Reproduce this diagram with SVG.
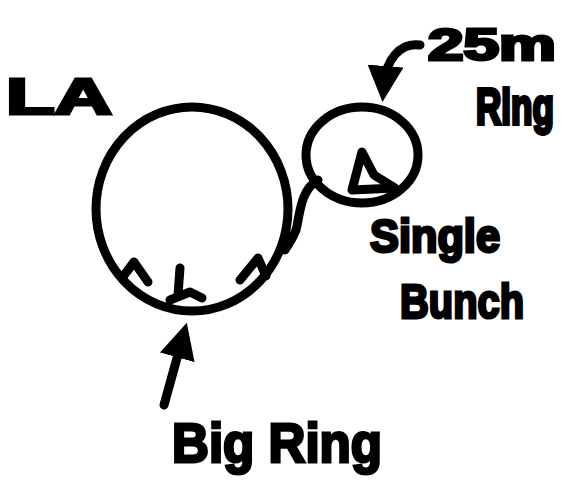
<svg xmlns="http://www.w3.org/2000/svg" width="579" height="491" viewBox="0 0 579 491">
<style>
.s{fill:none;stroke:#000;stroke-width:9;stroke-linecap:round;stroke-linejoin:round}
.t{font-family:"Liberation Sans",Arial,sans-serif;font-weight:bold;fill:#000;stroke:#000;stroke-width:3}
</style>
<defs>
<marker id="ah" viewBox="0 0 10 10" refX="5" refY="5" markerWidth="4" markerHeight="4" orient="auto-start-reverse">
<path d="M0,0 L10,5 L0,10 z" fill="#000"/>
</marker>
</defs>
<rect width="579" height="491" fill="#fff"/>
<g id="big-ring">
<ellipse class="s" cx="192" cy="209" rx="96" ry="102"/>
<path class="s" d="M122,278 L134,262 L148,282"/>
<path class="s" d="M178,295 L180,268 M170,300 L190,292 L202,298"/>
<path class="s" d="M240,280 L258,258 L266,276"/>
</g>
<g id="small-ring">
<ellipse class="s" cx="362" cy="155" rx="56" ry="48"/>
<path class="s" d="M352,190 L362,152 L374,175 L395,188 Z"/>
</g>
<g id="connectors">
<path class="s" d="M318,180 C300,190 300,215 296,230 C292,240 288,245 285,250"/>
<path class="s" d="M420,45 C400,42 386,60 384,84" marker-end="url(#ah)"/>
<path class="s" d="M164,405 L182,340" marker-end="url(#ah)"/>
</g>
<g id="label-la"><text class="t" x="6" y="114" font-size="50" textLength="106" lengthAdjust="spacingAndGlyphs">LA</text></g>
<g id="label-25m-ring">
<text class="t" x="428" y="60" font-size="44" textLength="128" lengthAdjust="spacingAndGlyphs">25m</text>
<text class="t" transform="translate(476,124) scale(1,1.25)" x="0" y="0" font-size="40" textLength="78" lengthAdjust="spacingAndGlyphs">Ring</text>
</g>
<g id="label-single-bunch">
<text class="t" x="370" y="252" font-size="46" textLength="130" lengthAdjust="spacingAndGlyphs">Single</text>
<text class="t" x="400" y="318" font-size="48" textLength="124" lengthAdjust="spacingAndGlyphs">Bunch</text>
</g>
<g id="label-big-ring">
<text class="t" x="172" y="462" font-size="56" textLength="210" lengthAdjust="spacingAndGlyphs">Big Ring</text>
</g>
</svg>
